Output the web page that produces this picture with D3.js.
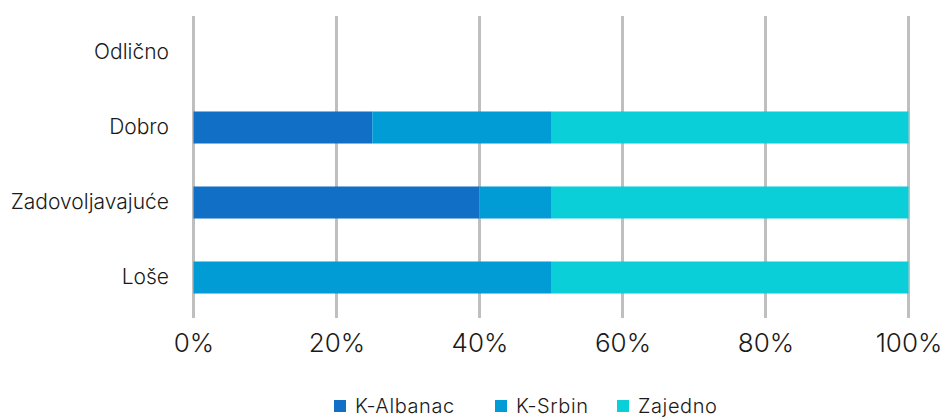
<!DOCTYPE html>
<html>
<head>
<meta charset="utf-8">
<script src="https://cdn.jsdelivr.net/npm/d3@7"></script>
<style>
  body { margin: 0; background: #fff; }
  svg text { font-family: Inter, "Open Sans", sans-serif; fill: #1a1a1a; }
</style>
</head>
<body>
<svg id="chart" width="945" height="419"></svg>
<script>
// data
const categories = ["Odlično", "Dobro", "Zadovoljavajuće", "Loše"];
const series = ["K-Albanac", "K-Srbin", "Zajedno"];
const kAlbanac = [0, 25, 40, 0];
const kSrbin = [0, 25, 10, 50];
const zajedno = [0, 50, 50, 50];
const ticks = [0, 0.2, 0.4, 0.6, 0.8, 1];
const colors = ["#116fc6", "#019cd5", "#0bcfd8"];

const svg = d3.select("#chart");

const x = d3.scaleLinear().domain([0, 1]).range([193.5, 908.5]);
const y = d3.scaleBand().domain(categories)
  .range([15, 315]).paddingInner(0.573).paddingOuter(0.2865);

// rows -> stack (as share of row total)
const rows = categories.map((c, i) => {
  const tot = kAlbanac[i] + kSrbin[i] + zajedno[i];
  return {
    cat: c,
    "K-Albanac": tot ? kAlbanac[i] / tot : 0,
    "K-Srbin": tot ? kSrbin[i] / tot : 0,
    "Zajedno": tot ? zajedno[i] / tot : 0
  };
});
const stacked = d3.stack().keys(series)(rows);

// gridlines
svg.append("g")
  .selectAll("line")
  .data(ticks)
  .enter().append("line")
  .attr("x1", d => x(d)).attr("x2", d => x(d))
  .attr("y1", 16).attr("y2", 318)
  .attr("stroke", "#bfbfbf")
  .attr("stroke-width", 3);

// bars
svg.append("g")
  .selectAll("g")
  .data(stacked)
  .enter().append("g")
  .attr("fill", (d, i) => colors[i])
  .selectAll("rect")
  .data(d => d)
  .enter().append("rect")
  .attr("x", d => x(d[0]))
  .attr("width", d => x(d[1]) - x(d[0]))
  .attr("y", d => y(d.data.cat))
  .attr("height", y.bandwidth());

// x axis labels
const xAxis = svg.append("g")
  .call(d3.axisBottom(x).tickValues(ticks).tickFormat(d3.format(".0%")).tickSize(0));
xAxis.select(".domain").remove();
xAxis.selectAll("text")
  .attr("y", 352)
  .attr("dy", 0)
  .style("font-size", "26px")
  .style("font-weight", 300);

// y axis labels
const yAxis = svg.append("g")
  .attr("transform", "translate(169,0)")
  .call(d3.axisLeft(y).tickSize(0).tickPadding(0));
yAxis.select(".domain").remove();
yAxis.selectAll("text")
  .style("font-size", "21px")
  .style("font-weight", 300);

// legend
const legendX = [334, 495, 617];
const legend = svg.append("g")
  .selectAll("g")
  .data(series)
  .enter().append("g")
  .attr("transform", (d, i) => `translate(${legendX[i]},400)`);
legend.append("rect")
  .attr("width", 12).attr("height", 12)
  .attr("fill", (d, i) => colors[i]);
legend.append("text")
  .attr("x", 21).attr("y", 13)
  .style("font-size", "20px")
  .style("font-weight", 300)
  .style("letter-spacing", "0.6px")
  .text(d => d);
</script>
</body>
</html>
